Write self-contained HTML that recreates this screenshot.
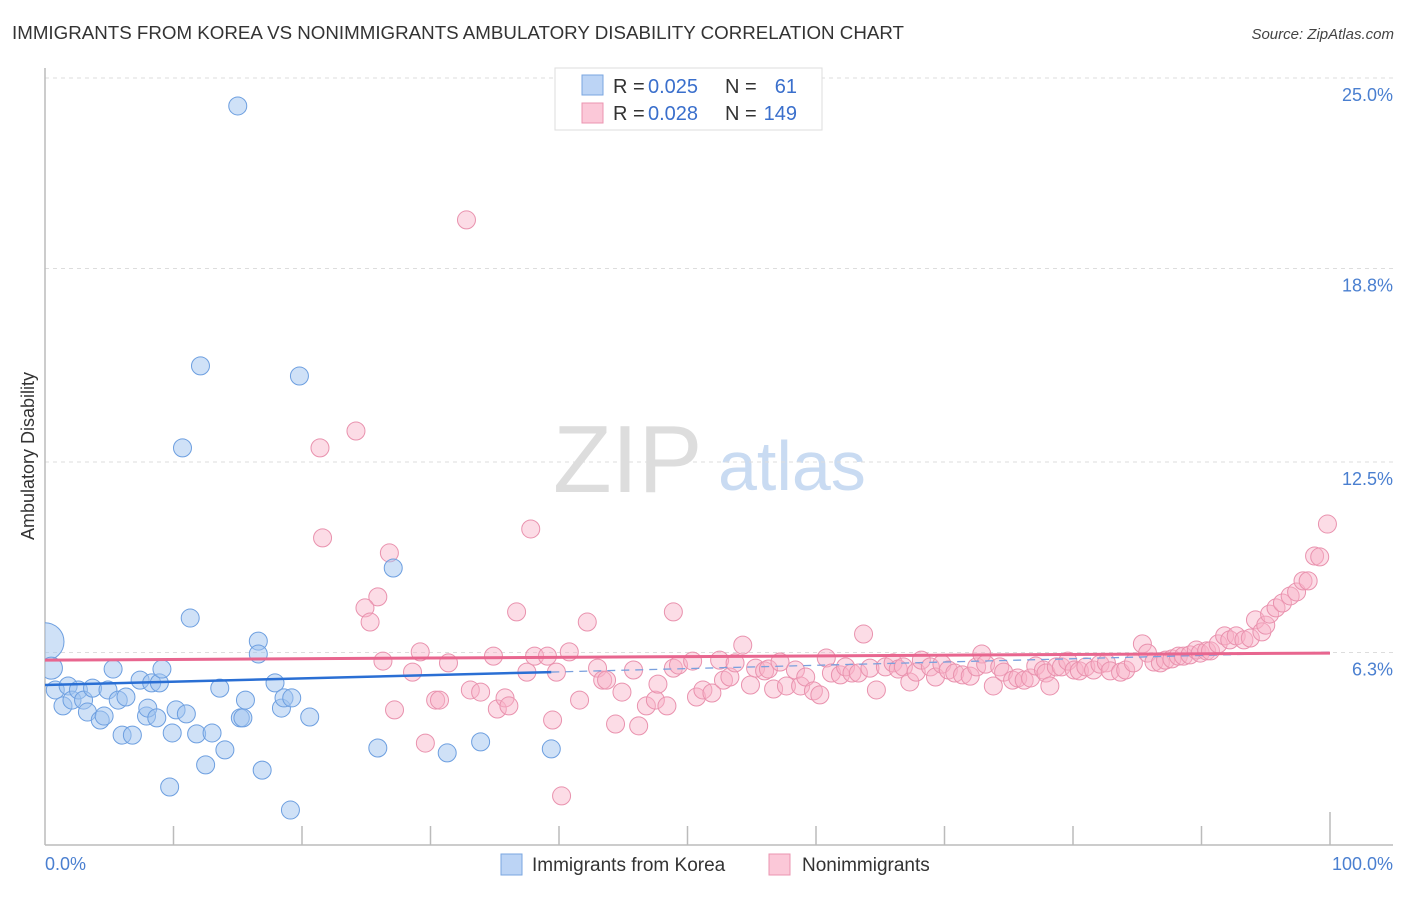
<!DOCTYPE html>
<html><head><meta charset="utf-8"><style>
body{margin:0;background:#fff;}
svg text{font-family:"Liberation Sans",sans-serif;}
</style></head><body>
<svg id="chart" width="1406" height="892" viewBox="0 0 1406 892" xmlns="http://www.w3.org/2000/svg">
<defs><clipPath id="plotclip"><rect x="45" y="60" width="1360" height="785"/></clipPath></defs>
<text x="12" y="39" font-size="18" fill="#333" textLength="892" lengthAdjust="spacingAndGlyphs">IMMIGRANTS FROM KOREA VS NONIMMIGRANTS AMBULATORY DISABILITY CORRELATION CHART</text>
<text x="1394" y="39" font-size="15" fill="#444" font-style="italic" text-anchor="end">Source: ZipAtlas.com</text>
<g>
<text x="553" y="492" font-size="96" fill="#ddd" font-family="Liberation Serif, serif">ZIP</text>
<text x="718" y="490" font-size="70" fill="#c9dbf2">atlas</text>
</g>
<g id="grid"></g>
<g id="axes"></g>
<g id="points" clip-path="url(#plotclip)"></g>
<g id="trend"></g>
<text transform="translate(34,456) rotate(-90)" font-size="18" fill="#333" text-anchor="middle">Ambulatory Disability</text>
<text x="45" y="870" font-size="18" fill="#4a7fd0">0.0%</text>
<text x="1393" y="870" font-size="18" fill="#4a7fd0" text-anchor="end">100.0%</text>
<g>
<rect x="555" y="68" width="267" height="62" fill="#fff" stroke="#ddd"/>
<rect x="582" y="75" width="21" height="20" fill="#bcd4f5" stroke="#7aa6e0"/>
<rect x="582" y="103" width="21" height="20" fill="#fbc8d8" stroke="#eb94b0"/>
<text x="613" y="93" font-size="20" fill="#333">R =</text>
<text x="648" y="93" font-size="20" fill="#3a6fcc">0.025</text>
<text x="725" y="93" font-size="20" fill="#333">N =</text>
<text x="797" y="93" font-size="20" fill="#3a6fcc" text-anchor="end">61</text>
<text x="613" y="120" font-size="20" fill="#333">R =</text>
<text x="648" y="120" font-size="20" fill="#3a6fcc">0.028</text>
<text x="725" y="120" font-size="20" fill="#333">N =</text>
<text x="797" y="120" font-size="20" fill="#3a6fcc" text-anchor="end">149</text>
</g>
<g>
<rect x="501" y="854" width="21" height="21" fill="#bcd4f5" stroke="#7aa6e0"/>
<text x="532" y="871" font-size="19" fill="#333">Immigrants from Korea</text>
<rect x="769" y="854" width="21" height="21" fill="#fbc8d8" stroke="#eb94b0"/>
<text x="802" y="871" font-size="19" fill="#333">Nonimmigrants</text>
</g>
</svg>
<script>
const yTicks=[6.3,12.5,18.8,25.0];
const yTickLabels=["6.3%","12.5%","18.8%","25.0%"];
const xTicks=[0,10,20,30,40,50,60,70,80,90,100];
const koreaX=[0,0.5,0.8,1.4,1.8,2.1,2.6,3.0,3.3,3.7,4.3,4.6,4.9,5.3,5.7,6.0,6.3,6.8,7.4,7.9,8.0,8.3,8.7,8.9,9.1,9.7,9.9,10.2,10.7,11.0,11.3,11.8,12.1,12.5,13.0,13.6,14.0,15.0,15.2,15.4,15.6,16.6,16.6,16.9,17.9,18.4,18.6,19.1,19.2,19.8,20.6,25.9,27.1,31.3,33.9,39.4];
const koreaY=[6.65,5.79,5.08,4.56,5.21,4.75,5.08,4.75,4.36,5.14,4.10,4.23,5.08,5.76,4.75,3.61,4.85,3.61,5.40,4.23,4.49,5.31,4.17,5.31,5.76,1.92,3.68,4.43,12.96,4.30,7.42,3.65,15.63,2.64,3.68,5.14,3.13,24.09,4.17,4.17,4.75,6.67,6.25,2.47,5.31,4.49,4.82,1.17,4.82,15.30,4.20,3.19,9.05,3.03,3.39,3.16];
const nonX=[32.8,21.4,24.2,21.6,26.8,37.8,25.9,24.9,25.3,36.7,42.2,48.9,26.3,28.6,29.2,27.2,29.6,30.4,30.7,31.4,33.1,33.9,34.9,35.2,35.8,36.1,37.5,38.1,39.1,39.5,39.8,40.2,40.8,41.6,43.0,43.4,43.7,44.4,44.9,45.8,46.2,46.8,47.5,47.7,48.4,48.9,49.3,50.4,50.7,51.2,51.9,52.5,52.8,53.3,53.7,54.3,54.9,55.3,56.0,56.3,56.7,57.2,57.7,58.4,58.8,59.2,59.8,60.3,60.8,61.2,61.9,62.3,62.8,63.3,63.7,64.2,64.7,65.4,66.0,66.4,66.8,67.3,67.8,68.2,68.9,69.3,69.8,70.3,70.8,71.4,72.0,72.5,72.9,73.2,73.8,74.3,74.6,75.3,75.7,76.2,76.7,77.1,77.7,77.9,78.2,78.7,79.1,79.6,80.1,80.5,81.0,81.6,82.1,82.6,82.9,83.7,84.1,84.7,85.4,85.8,86.3,86.8,87.2,87.7,88.2,88.6,89.1,89.6,89.9,90.4,90.7,91.3,91.8,92.2,92.7,93.3,93.8,94.2,94.7,95.0,95.3,95.8,96.3,96.9,97.4,97.9,98.3,98.8,99.2,99.8];
const nonY=[20.38,12.96,13.51,10.03,9.54,10.32,8.11,7.75,7.29,7.62,7.29,7.62,6.02,5.66,6.32,4.43,3.35,4.75,4.75,5.96,5.08,5.01,6.18,4.46,4.82,4.56,5.66,6.18,6.18,4.10,5.66,1.63,6.32,4.75,5.79,5.40,5.40,3.97,5.01,5.73,3.91,4.56,4.75,5.27,4.56,5.79,5.89,6.02,4.85,5.08,4.98,6.05,5.40,5.50,5.96,6.54,5.24,5.79,5.70,5.76,5.11,5.99,5.21,5.73,5.21,5.50,5.05,4.92,6.12,5.63,5.57,5.83,5.63,5.63,6.90,5.79,5.08,5.83,5.96,5.76,5.83,5.34,5.66,6.05,5.83,5.50,5.92,5.73,5.63,5.57,5.53,5.83,6.25,5.92,5.21,5.83,5.66,5.40,5.47,5.40,5.47,5.86,5.73,5.63,5.21,5.83,5.83,6.02,5.73,5.70,5.83,5.73,5.92,5.96,5.70,5.66,5.73,5.96,6.58,6.28,5.99,5.96,6.05,6.09,6.18,6.18,6.22,6.38,6.28,6.35,6.35,6.58,6.84,6.71,6.84,6.71,6.77,7.36,6.97,7.19,7.55,7.75,7.91,8.14,8.27,8.63,8.63,9.44,9.41,10.48];
const koreaTrend=[5.24,6.31];
const nonTrend=[6.05,6.28];
const koreaSolidEnd=39.4;

const NS="http://www.w3.org/2000/svg";
const X=v=>45+v*12.85;
const Y=v=>654-(v-6.25)*30.72;
function mk(tag,attrs,parent){const e=document.createElementNS(NS,tag);for(const k in attrs)e.setAttribute(k,attrs[k]);parent.appendChild(e);return e;}
const grid=document.getElementById('grid'),axes=document.getElementById('axes'),trend=document.getElementById('trend'),pts=document.getElementById('points');
yTicks.forEach((t,i)=>{
  const g=mk('line',{x1:45,x2:1393,y1:Y(t),y2:Y(t),stroke:'#ddd','stroke-dasharray':'4,4'},grid);
  
  
  const tx=mk('text',{x:1393,y:Y(t)+23,'font-size':18,fill:'#4a7fd0','text-anchor':'end'},grid);
  tx.textContent=yTickLabels[i];
  
  
});
const la=mk('line',{x1:45,x2:45,y1:68,y2:845,stroke:'#bbb','stroke-width':1.5},axes);


const ba=mk('line',{x1:45,x2:1393,y1:845,y2:845,stroke:'#bbb','stroke-width':1.5},axes);


xTicks.forEach((t,i)=>{
  if(i===0)return;
  const tk=mk('line',{x1:X(t),x2:X(t),y1:i===10?812:826,y2:845,stroke:'#bbb','stroke-width':1.5},axes);
  
  
});
function pt(x,y,r,fill,stroke,name){
  const c=mk('circle',{cx:X(x),cy:Y(y),r:r,fill:fill,stroke:stroke,'stroke-width':1},pts);
  
  
}
nonX.forEach((x,i)=>pt(x,nonY[i],9,'rgba(248,178,200,0.45)','#e992ae','nonimmigrant-point'));
koreaX.forEach((x,i)=>pt(x,koreaY[i],i===0?19:(i===1?11:9),'rgba(160,196,240,0.5)','#6d9fe0','korea-point'));
const kd=mk('line',{x1:X(koreaSolidEnd),y1:Y(koreaTrend[0]+(koreaTrend[1]-koreaTrend[0])*koreaSolidEnd/100),x2:X(100),y2:Y(koreaTrend[1]),stroke:'#7aa0dd','stroke-width':1.3,'stroke-dasharray':'8,6'},trend);


const nt=mk('line',{x1:X(0),y1:Y(nonTrend[0]),x2:X(100),y2:Y(nonTrend[1]),stroke:'#e8668f','stroke-width':3},trend);


const kt=mk('line',{x1:X(0),y1:Y(koreaTrend[0]),x2:X(koreaSolidEnd),y2:Y(koreaTrend[0]+(koreaTrend[1]-koreaTrend[0])*koreaSolidEnd/100),stroke:'#2a6fd4','stroke-width':2.5},trend);


</script>
</body></html>
